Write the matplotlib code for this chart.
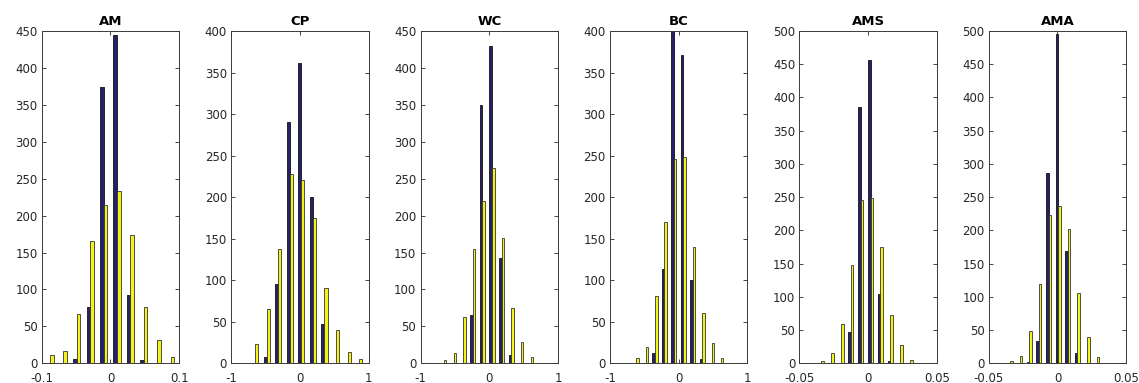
import numpy as np
from matplotlib import pyplot as plt

# panel titles and axis ranges
titles = ['AM', 'CP', 'WC', 'BC', 'AMS', 'AMA']
xlims = [(-0.1, 0.1), (-1, 1), (-1, 1), (-1, 1), (-0.05, 0.05), (-0.05, 0.05)]
xticks = [[-0.1, 0, 0.1], [-1, 0, 1], [-1, 0, 1], [-1, 0, 1], [-0.05, 0, 0.05], [-0.05, 0, 0.05]]
xticklabels = [['-0.1', '0', '0.1'], ['-1', '0', '1'], ['-1', '0', '1'], ['-1', '0', '1'],
               ['-0.05', '0', '0.05'], ['-0.05', '0', '0.05']]
ymax = [450, 400, 450, 400, 500, 500]

# bin centres (first centre, spacing)
first_bin = [-0.088, -0.650, -0.660, -0.618, -0.0340, -0.0345]
bin_step = [0.0195, 0.168, 0.140, 0.137, 0.00716, 0.0070]

# counts, blue series
am_blue = [0, 0, 6, 76, 374, 445, 93, 5, 0, 0]
cp_blue = [0, 7, 95, 291, 361, 200, 47, 0, 0, 0]
wc_blue = [0, 0, 1, 66, 350, 430, 143, 11, 0, 0]
bc_blue = [0, 0, 12, 114, 430, 371, 100, 5, 0, 0]
ams_blue = [0, 0, 1, 47, 386, 457, 105, 4, 0, 0]
ama_blue = [0, 0, 2, 33, 286, 496, 169, 15, 0, 0]

# counts, yellow series
am_yel = [11, 17, 67, 165, 215, 233, 174, 76, 32, 9]
cp_yel = [23, 65, 137, 228, 221, 175, 91, 40, 14, 5]
wc_yel = [4, 14, 63, 155, 220, 264, 170, 75, 29, 9]
bc_yel = [6, 20, 81, 170, 246, 248, 140, 60, 24, 6]
ams_yel = [4, 15, 59, 148, 245, 249, 175, 72, 28, 5]
ama_yel = [4, 11, 48, 119, 223, 237, 202, 106, 40, 9]

blues = [am_blue, cp_blue, wc_blue, bc_blue, ams_blue, ama_blue]
yels = [am_yel, cp_yel, wc_yel, bc_yel, ams_yel, ama_yel]

navy = '#24216e'
yellow = '#f2f21a'

fig = plt.figure(figsize=(11.39, 3.83), dpi=100)

left0 = 41.7 / 1139
step = 189.4 / 1139
w = 137.5 / 1139
bottom = 1 - 363.3 / 383
h = (363.3 - 31) / 383

for i in range(6):
    ax = fig.add_axes([left0 + i * step, bottom, w, h])
    centres = first_bin[i] + bin_step[i] * np.arange(10)
    bw = 0.27 * bin_step[i]
    ax.bar(centres - bw / 2, blues[i], width=bw, color=navy, edgecolor='#111111', linewidth=0.6)
    ax.bar(centres + bw / 2, yels[i], width=bw, color=yellow, edgecolor='#333333', linewidth=0.6)
    ax.set_xlim(xlims[i])
    ax.set_ylim(0, ymax[i])
    ax.set_xticks(xticks[i])
    ax.set_xticklabels(xticklabels[i])
    ax.set_yticks(np.arange(0, ymax[i] + 1, 50))
    ax.tick_params(direction='in', length=3, width=0.6, labelsize=8.5, colors='#262626',
                   top=True, right=True)
    ax.tick_params(axis='x', pad=6)
    ax.tick_params(axis='y', pad=3)
    for s in ax.spines.values():
        s.set_color('#3a3a3a')
        s.set_linewidth(0.7)
    ax.set_title(titles[i], fontsize=9.5, fontweight='bold', pad=4)

fig.savefig('out.png', dpi=100)
